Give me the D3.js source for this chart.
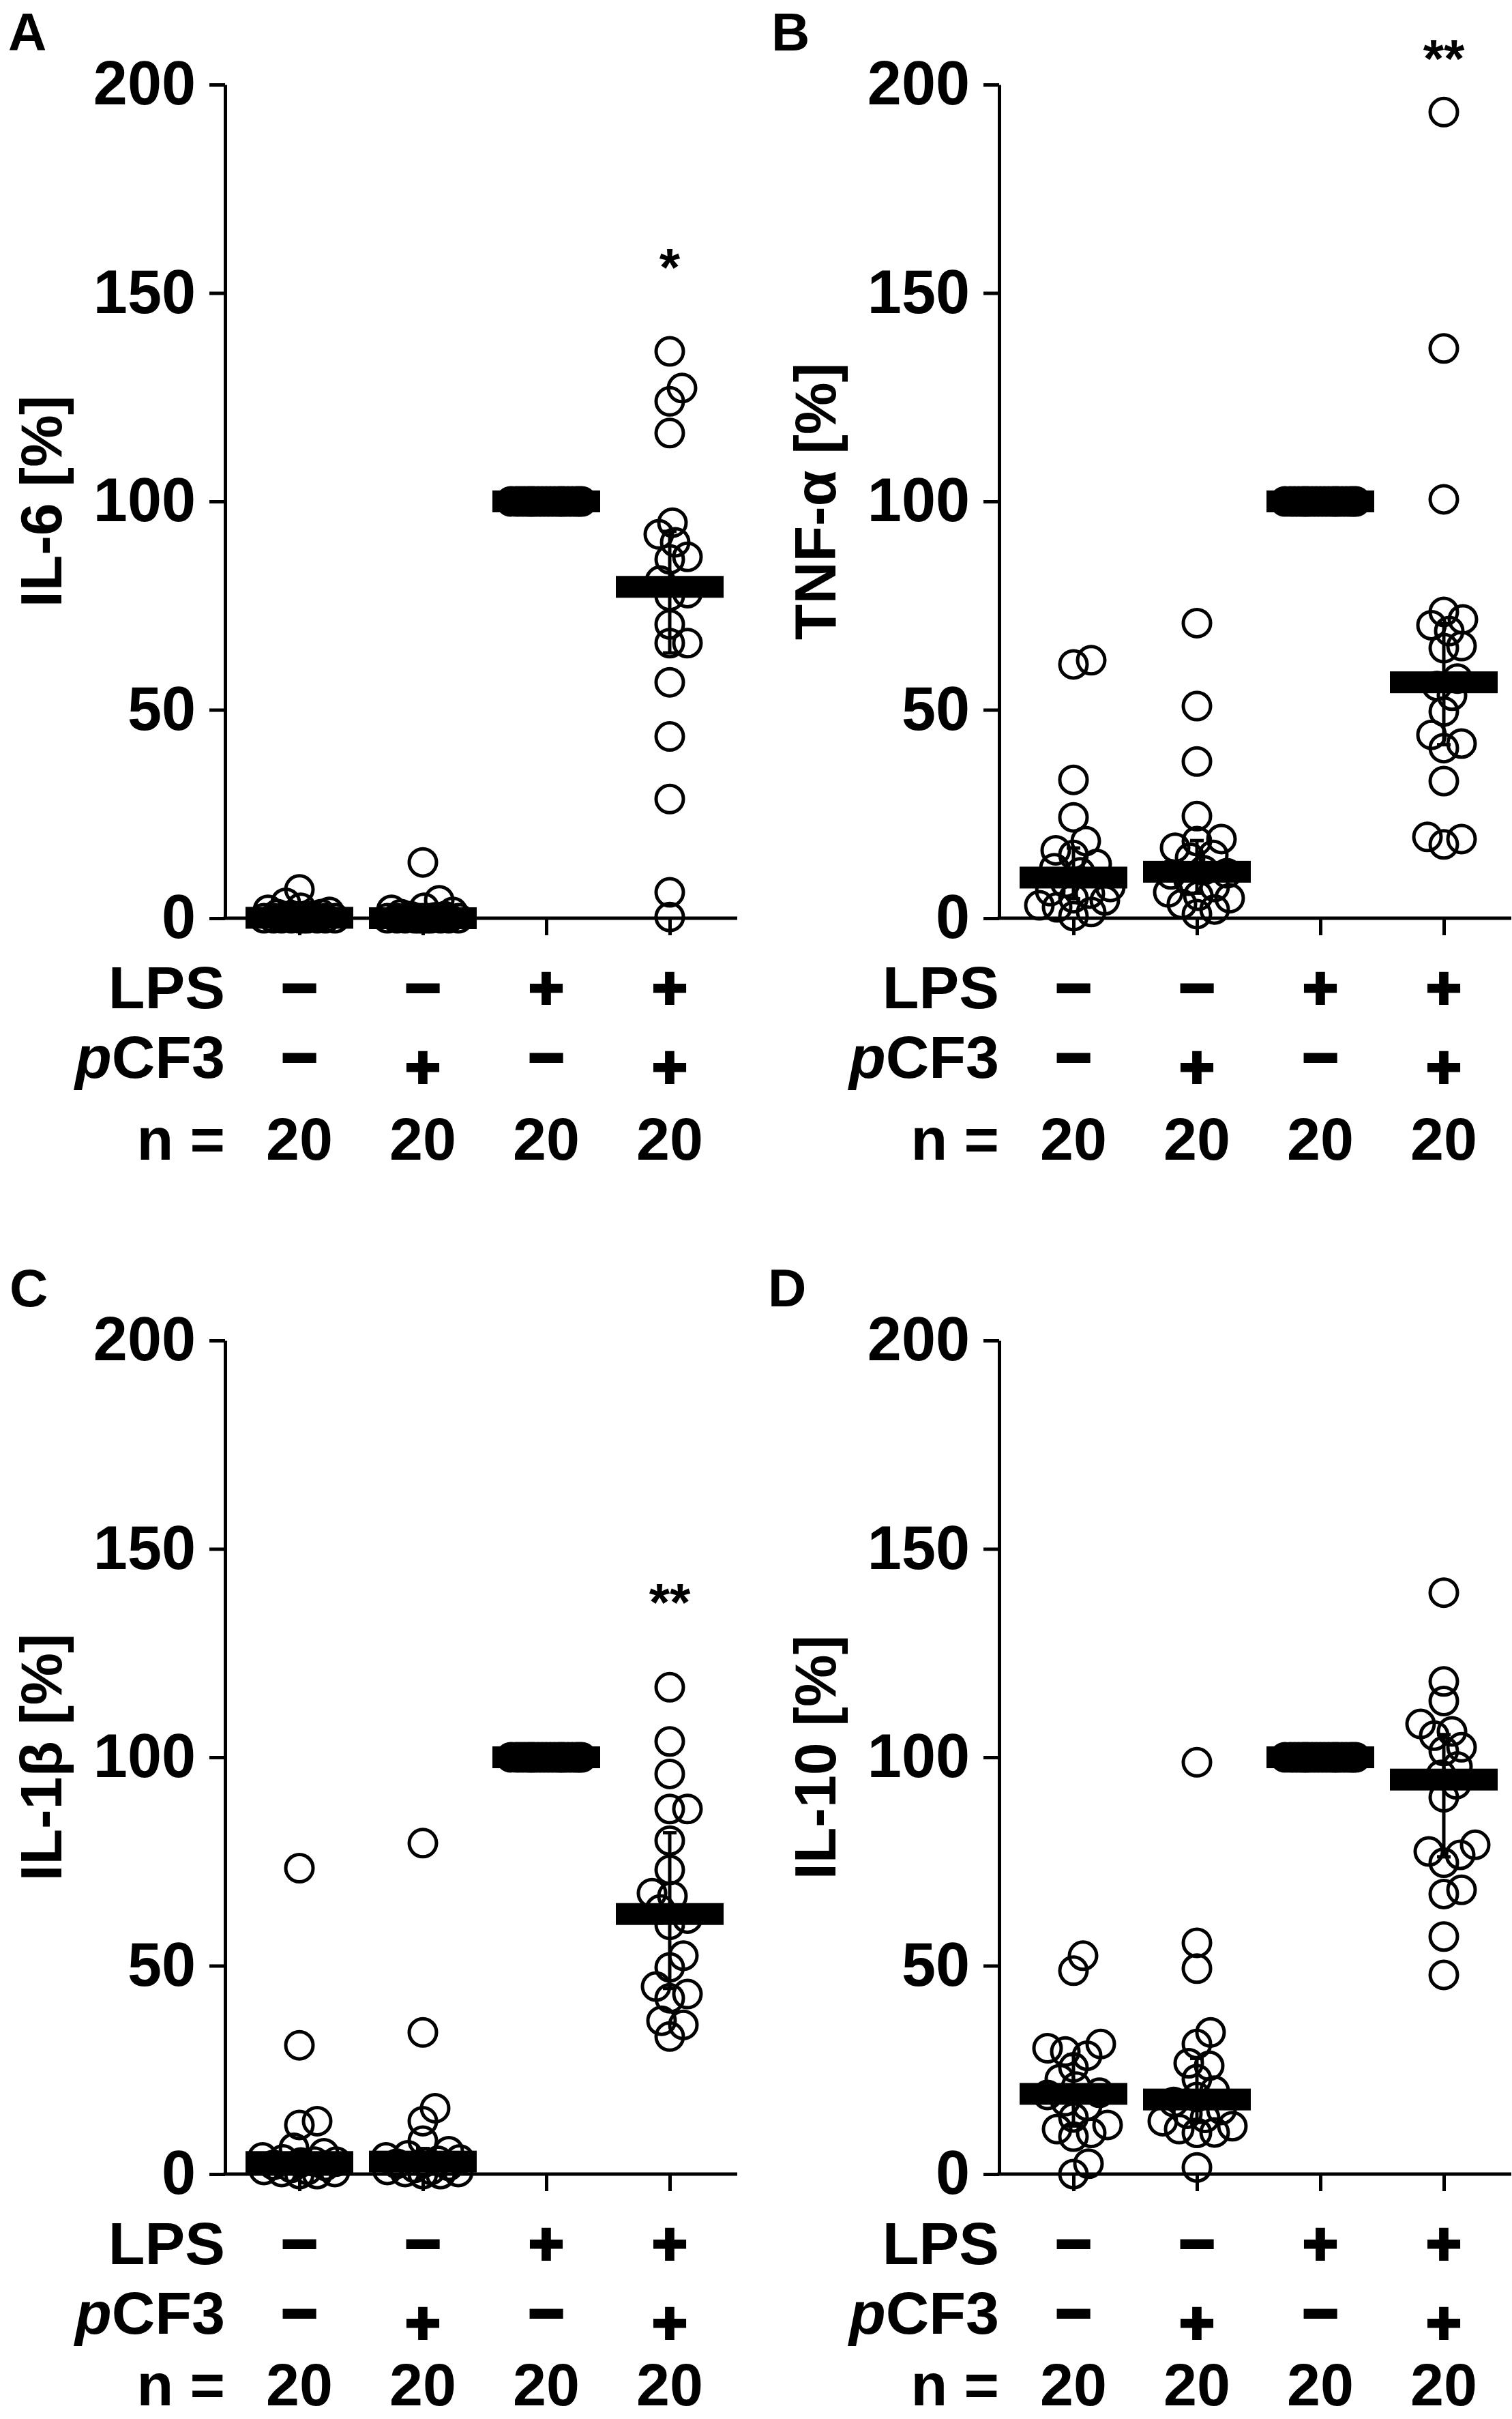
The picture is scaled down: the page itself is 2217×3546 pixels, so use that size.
<!DOCTYPE html>
<html>
<head>
<meta charset="utf-8">
<script src="https://cdn.jsdelivr.net/npm/d3@7"></script>
<style>
body { margin: 0; background: #fff; }
text { font-family: "Liberation Sans", Arial, sans-serif; }
</style>
</head>
<body>
<svg id="chart" width="2217" height="3546"></svg>
<script>
// groups and row labels under the x axis
var groups = ["ctrl", "pcf3", "lps", "lpsPcf3"];
var lpsRow = ["\u2212", "\u2212", "+", "+"];
var pcf3Row = ["\u2212", "+", "\u2212", "+"];
var nRow = ["20", "20", "20", "20"];
var yTicks = [0, 50, 100, 150, 200];

// IL-6 [%]
var il6Ctrl = [6.9, 3.7, 2.5, 2, 1.5, 1, 1, 0.5, 0.5, 0.2, 0, 0, 0, 0, 0, 0, 0, 0, 0, 0];
var il6Pcf3 = [13.4, 4.3, 2.5, 2, 1.5, 1, 0.5, 0.5, 0.2, 0, 0, 0, 0, 0, 0, 0, 0, 0, 0, 0];
var il6Lps = [100, 100, 100, 100, 100, 100, 100, 100, 100, 100, 100, 100, 100, 100, 100, 100, 100, 100, 100, 100];
var il6LpsPcf3 = [136, 127.2, 124, 116.4, 94.9, 92.1, 90.2, 86.7, 86.1, 81, 78, 77.3, 70.5, 66, 66, 56.6, 43.6, 28.6, 6.2, 0.3];

// TNF-a [%]
var tnfCtrl = [61.9, 60.9, 33.2, 24.2, 18.5, 16.3, 15.2, 13, 12, 11, 8.5, 7.5, 6.5, 5.9, 4.8, 4.3, 3.1, 2.6, 1.5, 0.5];
var tnfPcf3 = [70.8, 50.9, 37.6, 24.5, 19, 18.5, 16.9, 15.2, 14.5, 11.5, 10.8, 10.5, 9, 7.5, 6.2, 5.4, 4.8, 3.4, 2.1, 1.0];
var tnfLps = [100, 100, 100, 100, 100, 100, 100, 100, 100, 100, 100, 100, 100, 100, 100, 100, 100, 100, 100, 100];
var tnfLpsPcf3 = [193.4, 136.7, 100.5, 73.5, 71.7, 70.3, 68.9, 65.3, 64.8, 57.5, 55.7, 53.4, 49.6, 44, 41.9, 40.8, 32.9, 19.5, 19, 17.7];

// IL-1b [%]
var il1bCtrl = [73.4, 30.9, 12.7, 11.8, 6.3, 5, 4, 3.5, 3, 3, 2.8, 2.2, 2, 1.5, 1, 1, 0.5, 0.5, 0, 0];
var il1bPcf3 = [79.4, 34, 15.8, 12.7, 8, 5.5, 4.5, 4, 3.5, 3.2, 2.8, 2.5, 2, 1.5, 1, 1, 0.5, 0.5, 0, 0];
var il1bLps = [100, 100, 100, 100, 100, 100, 100, 100, 100, 100, 100, 100, 100, 100, 100, 100, 100, 100, 100, 100];
var il1bLpsPcf3 = [116.8, 103.8, 96, 87.6, 87.6, 80, 73, 67.4, 66.7, 63.5, 61.3, 59.8, 52.4, 49.6, 45, 43.2, 42.2, 36.8, 35.8, 33];

// IL-10 [%]
var il10Ctrl = [52.4, 48.8, 31.2, 30.2, 29.4, 28.4, 25.6, 22.8, 21, 19.5, 19, 17.5, 16.4, 13.6, 11.8, 10.8, 9.9, 9, 2.5, 0];
var il10Pcf3 = [98.8, 55.5, 49.3, 34, 31.2, 26.6, 26, 22.8, 20, 18.5, 17.3, 15.4, 14.5, 13.5, 12.7, 11.5, 10.8, 10, 9.9, 1.6];
var il10Lps = [100, 100, 100, 100, 100, 100, 100, 100, 100, 100, 100, 100, 100, 100, 100, 100, 100, 100, 100, 100];
var il10LpsPcf3 = [139.5, 118.2, 113.5, 108, 106.2, 105.2, 102.4, 101.5, 97.8, 95.8, 93.5, 90.4, 79, 77.4, 76.6, 74.7, 68.2, 67.2, 57, 47.8];

// significance marks over the last group, and the value they sit at
var panelLetters = ["A", "B", "C", "D"];
var yLabels = ["IL-6 [%]", "TNF-\u03b1 [%]", "IL-1\u03b2 [%]", "IL-10 [%]"];
var sigMarks = ["*", "**", "**", ""];
var sigValues = [159, 209, 140, 0];

var panelData = [
  [il6Ctrl, il6Pcf3, il6Lps, il6LpsPcf3],
  [tnfCtrl, tnfPcf3, tnfLps, tnfLpsPcf3],
  [il1bCtrl, il1bPcf3, il1bLps, il1bLpsPcf3],
  [il10Ctrl, il10Pcf3, il10Lps, il10LpsPcf3]
];

var svg = d3.select("#chart");
svg.append("rect").attr("width", 2217).attr("height", 3546).attr("fill", "#fff");

var origins = [[330, 0], [1465, 0], [330, 1841], [1465, 1841]],
    letterX = [12, 1131, 14, 1126],
    axisTop = 124,
    axisBottom = 1346,
    axisLen = 751,
    r = 20,
    bigFont = 90,
    pageH = 3546;

//Spread equal-ish values sideways so the circles don't sit on each other
function swarm(values, y) {
  var minD = 26, maxW = 54, step = 2, placed = [], out = [];
  var order = values.map(function(v, i) { return i; })
    .sort(function(a, b) { return values[a] - values[b]; });
  order.forEach(function(i) {
    var py = y(values[i]), best = 0, bestD = -1, found = false;
    for (var k = 0; k <= maxW / step && !found; k++) {
      var cands = k === 0 ? [0] : [k * step, -k * step];
      for (var c = 0; c < cands.length; c++) {
        var dx = cands[c], dmin = Infinity;
        placed.forEach(function(q) {
          var d = Math.hypot(q.dx - dx, q.py - py);
          if (d < dmin) dmin = d;
        });
        if (dmin >= minD) { best = dx; found = true; break; }
        if (dmin > bestD) { bestD = dmin; best = dx; }
      }
    }
    placed.push({dx: best, py: py});
    out.push({v: values[i], dx: best});
  });
  return out;
}

panelData.forEach(function(data, p) {
  var oy = origins[p][1];
  var g = svg.append("g")
    .attr("transform", "translate(" + origins[p][0] + "," + oy + ")");
  var y = d3.scaleLinear().domain([0, 200]).range([axisBottom, axisTop]);
  var x = d3.scalePoint().domain(groups).range([109, 652]);

  //Create the y axis
  var ya = g.append("g")
    .call(d3.axisLeft(y).tickValues(yTicks).tickSize(23).tickSizeOuter(0).tickPadding(20));
  ya.select(".domain").attr("stroke-width", 5).attr("stroke", "#000");
  ya.selectAll(".tick line").attr("stroke-width", 5).attr("stroke", "#000");
  ya.selectAll(".tick text")
    .attr("fill", "#000")
    .style("font-size", bigFont + "px")
    .style("font-weight", "bold")
    .style("font-family", "'Liberation Sans', Arial, sans-serif");

  //Create the x axis
  var xa = g.append("g")
    .attr("transform", "translate(0," + axisBottom + ")")
    .call(d3.axisBottom(x).tickSize(25).tickSizeOuter(0).tickFormat(""));
  xa.select(".domain").remove();
  xa.selectAll(".tick line").attr("stroke-width", 5).attr("stroke", "#000");
  g.append("line")
    .attr("x1", -2.5).attr("x2", axisLen)
    .attr("y1", axisBottom).attr("y2", axisBottom)
    .attr("stroke", "#000").attr("stroke-width", 5);

  //Circles, IQR and median for every group
  data.forEach(function(vals, gi) {
    var cx = x(groups[gi]);
    g.append("g").selectAll("circle")
      .data(swarm(vals, y))
      .enter()
      .append("circle")
      .attr("cx", function(d) { return cx + d.dx; })
      .attr("cy", function(d) { return y(d.v); })
      .attr("r", r)
      .attr("fill", "none")
      .attr("stroke", "#000")
      .attr("stroke-width", 5);

    var sorted = vals.slice().sort(d3.ascending),
        q1 = d3.quantile(sorted, 0.25),
        q3 = d3.quantile(sorted, 0.75),
        med = d3.median(sorted);
    g.append("line")
      .attr("x1", cx).attr("x2", cx)
      .attr("y1", y(q1)).attr("y2", y(q3))
      .attr("stroke", "#000").attr("stroke-width", 5);
    g.selectAll(null)
      .data([q1, q3])
      .enter()
      .append("line")
      .attr("x1", cx - 10).attr("x2", cx + 10)
      .attr("y1", function(d) { return y(d); })
      .attr("y2", function(d) { return y(d); })
      .attr("stroke", "#000").attr("stroke-width", 5);
    g.append("rect")
      .attr("x", cx - 79).attr("y", y(med) - 16)
      .attr("width", 158).attr("height", 32)
      .attr("fill", "#000");
  });

  //Significance stars
  if (sigMarks[p]) {
    g.append("text")
      .attr("x", x(groups[3]))
      .attr("y", y(sigValues[p]) + 44)
      .attr("text-anchor", "middle")
      .style("font-size", "78px")
      .style("font-weight", "bold")
      .text(sigMarks[p]);
  }

  //Y axis title
  g.append("text")
    .attr("transform", "translate(-240," + y(100) + ") rotate(-90)")
    .attr("text-anchor", "middle")
    .style("font-size", "86px")
    .style("font-weight", "bold")
    .text(yLabels[p]);

  //Rows under the axis (the last row is kept inside the page)
  var rows = [
    {label: "LPS", vals: lpsRow, base: 1478},
    {label: "pCF3", vals: pcf3Row, base: 1580},
    {label: "n =", vals: nRow, base: Math.min(1700, pageH - 20 - oy)}
  ];
  rows.forEach(function(row, ri) {
    var t = g.append("text")
      .attr("x", 0).attr("y", row.base)
      .attr("text-anchor", "end")
      .style("font-size", "88px")
      .style("font-weight", "bold");
    if (ri === 1) {
      t.append("tspan").style("font-style", "italic").text("p");
      t.append("tspan").text("CF3");
    } else {
      t.text(row.label);
    }
    g.selectAll(null)
      .data(row.vals)
      .enter()
      .append("text")
      .attr("x", function(d, i) { return x(groups[i]); })
      .attr("y", function(d) { return row.base + (ri === 1 && d === "+" ? 14 : 0); })
      .attr("text-anchor", "middle")
      .attr("stroke", function(d) { return ri < 2 ? "#000" : "none"; })
      .attr("stroke-width", function(d) { return d === "+" ? 4 : 5; })
      .style("font-size", "88px")
      .style("font-weight", "bold")
      .text(function(d) { return d; });
  });

  //Panel letter
  svg.append("text")
    .attr("x", letterX[p])
    .attr("y", oy + 74)
    .style("font-size", "78px")
    .style("font-weight", "bold")
    .text(panelLetters[p]);
});
</script>
</body>
</html>
